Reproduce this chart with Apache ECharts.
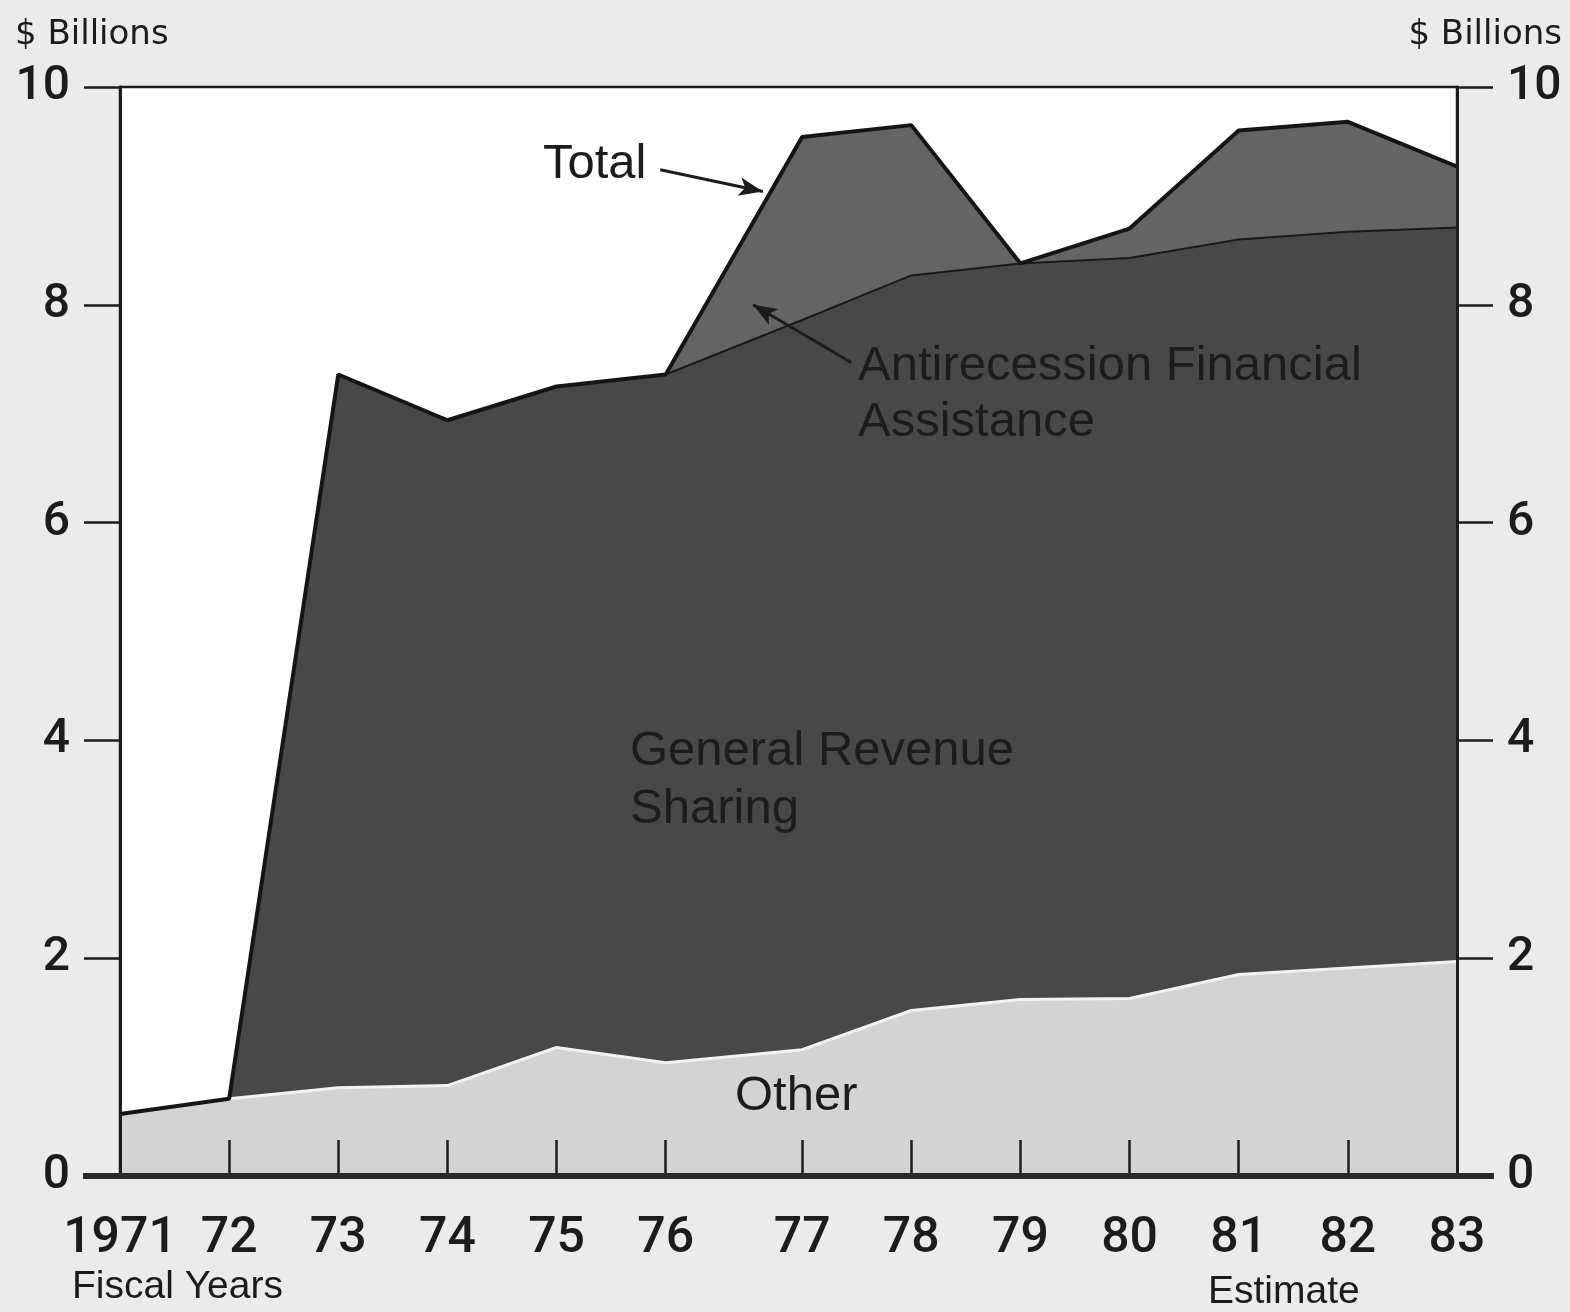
<!DOCTYPE html>
<html>
<head>
<meta charset="utf-8">
<script src="https://cdn.jsdelivr.net/npm/echarts@6/dist/echarts.min.js"></script>
<style>
  html, body { margin: 0; padding: 0; background: #ebebeb; }
  #main { width: 1570px; height: 1312px; }
</style>
</head>
<body>
<div id="main"></div>
<script>
// fiscal years; FY77 onward shifted by the transition quarter (0.25 yr)
var yearLabels = ['1971', '72', '73', '74', '75', '76', '77', '78', '79', '80', '81', '82', '83'];
var fiscalTime = [1971, 1972, 1973, 1974, 1975, 1976, 1977.25, 1978.25, 1979.25, 1980.25, 1981.25, 1982.25, 1983.25];
// $ billions
var other = [0.57, 0.71, 0.81, 0.83, 1.18, 1.04, 1.16, 1.52, 1.62, 1.63, 1.85, 1.91, 1.97];
var revenueSharing = [0, 0, 6.55, 6.11, 6.07, 6.32, 6.70, 6.75, 6.76, 6.80, 6.75, 6.76, 6.74];
var antirecession = [0, 0, 0, 0, 0, 0, 1.68, 1.38, 0, 0.27, 1.00, 1.01, 0.56];

var font = 'Roboto';
var textFont = '"Liberation Sans"';
var ink = '#1c1c1c';

// cumulative tops, drawn back to front
var otherPts = [], grsPts = [], totalPts = [];
for (var i = 0; i < fiscalTime.length; i++) {
  var a = other[i];
  var b = a + revenueSharing[i];
  var c = b + antirecession[i];
  otherPts.push([fiscalTime[i], a]);
  grsPts.push([fiscalTime[i], b]);
  totalPts.push([fiscalTime[i], c]);
}

function labelFor(v) {
  for (var i = 0; i < fiscalTime.length; i++) {
    if (Math.abs(fiscalTime[i] - v) < 0.01) return yearLabels[i];
  }
  return '';
}

var myChart = echarts.init(document.getElementById('main'));

var yAxisBase = {
  type: 'value',
  min: 0,
  max: 10,
  interval: 2,
  z: 10,
  splitLine: { show: false },
  axisLine: { show: true, lineStyle: { color: ink, width: 3 } },
  axisTick: { show: true, inside: false, length: 36, lineStyle: { color: ink, width: 2.5 } },
  axisLabel: { fontFamily: font, fontWeight: 500, fontSize: 48, color: ink, margin: 50 }
};

var option = {
  animation: false,
  backgroundColor: '#ebebeb',
  grid: {
    left: 120, right: 113, top: 87, bottom: 136,
    show: true, backgroundColor: '#ffffff', borderColor: ink, borderWidth: 2.5
  },
  xAxis: {
    type: 'value',
    min: 1971,
    max: 1983.25,
    z: 10,
    splitLine: { show: false },
    axisLine: { show: true, lineStyle: { color: '#2a2a2a', width: 6 } },
    axisTick: { show: true, inside: true, length: 36, customValues: fiscalTime, lineStyle: { color: ink, width: 2.5 } },
    axisLabel: {
      customValues: fiscalTime,
      formatter: labelFor,
      fontFamily: font, fontWeight: 500, fontSize: 50, color: ink, margin: 38
    }
  },
  yAxis: [
    Object.assign({}, yAxisBase, { position: 'left' }),
    Object.assign({}, yAxisBase, { position: 'right' })
  ],
  series: [
    {
      name: 'Antirecession Financial Assistance',
      type: 'line', data: totalPts, symbol: 'none', z: 2,
      lineStyle: { width: 0 },
      areaStyle: { color: '#646464', opacity: 1 }
    },
    {
      name: 'General Revenue Sharing',
      type: 'line', data: grsPts, symbol: 'none', z: 3,
      lineStyle: { color: '#1a1a1a', width: 2 },
      areaStyle: { color: '#484848', opacity: 1 }
    },
    {
      name: 'Other',
      type: 'line', data: otherPts, symbol: 'none', z: 4,
      lineStyle: { color: '#f2f2f2', width: 3 },
      areaStyle: { color: '#d3d3d3', opacity: 1 }
    },
    {
      name: 'Total',
      type: 'line', data: totalPts, symbol: 'none', z: 5,
      lineStyle: { color: '#151515', width: 4 },
      markLine: {
        silent: true,
        symbol: ['none', 'arrow'],
        symbolSize: [14, 24],
        label: { show: false },
        lineStyle: { color: ink, width: 3, type: 'solid' },
        data: [
          [{ coord: [1975.95, 9.24] }, { coord: [1976.89, 9.04] }],
          [{ coord: [1977.70, 7.47] }, { coord: [1976.80, 8.0] }]
        ]
      }
    }
  ],
  graphic: [
    { type: 'text', left: 15, top: 18, style: { text: '$ Billions', font: '34px "DejaVu Sans"', fill: ink } },
    { type: 'text', right: 8, top: 18, style: { text: '$ Billions', font: '34px "DejaVu Sans"', fill: ink } },
    { type: 'text', left: 72, top: 1268, style: { text: 'Fiscal Years', font: '39px ' + textFont, fill: ink } },
    { type: 'text', left: 1208, top: 1273, style: { text: 'Estimate', font: '39px ' + textFont, fill: ink } },
    { type: 'text', left: 543, top: 140, z: 10, style: { text: 'Total', font: '49px ' + textFont, fill: ink } },
    { type: 'text', left: 858, top: 338, z: 10, style: { text: 'Antirecession Financial\nAssistance', font: '49px ' + textFont, lineHeight: 56, fill: ink } },
    { type: 'text', left: 630, top: 722, z: 10, style: { text: 'General Revenue\nSharing', font: '49px ' + textFont, lineHeight: 58, fill: ink } },
    { type: 'text', left: 735, top: 1072, z: 10, style: { text: 'Other', font: '49px ' + textFont, fill: ink } }
  ]
};

myChart.setOption(option);

// the zero line runs out past both frames, like the 10 line does
var p0 = myChart.convertToPixel({ xAxisIndex: 0, yAxisIndex: 0 }, [1971, 0]);
var p1 = myChart.convertToPixel({ xAxisIndex: 0, yAxisIndex: 0 }, [1983.25, 0]);
option.graphic.push({
  type: 'line', z: 20,
  shape: { x1: p0[0] - 37, y1: p0[1], x2: p1[0] + 37, y2: p1[1] },
  style: { stroke: '#2a2a2a', lineWidth: 6 }
});
myChart.setOption({ graphic: option.graphic });
</script>
</body>
</html>
